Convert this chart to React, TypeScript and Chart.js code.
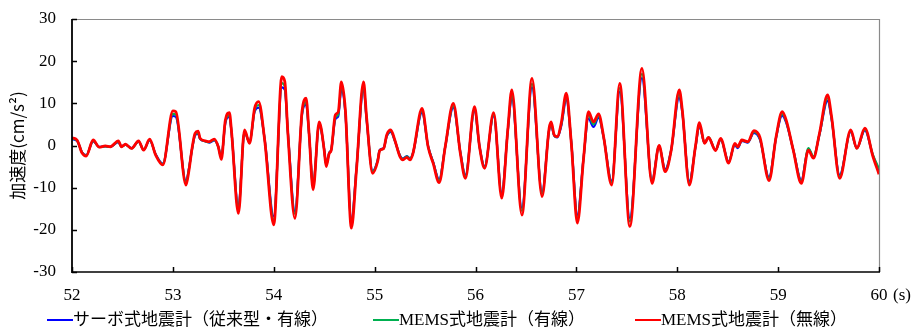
import React, { useEffect, useRef } from "react";
import { Chart, registerables } from "chart.js";
Chart.register(...registerables);

// ---- data ----
const times = [
  52.0, 52.05, 52.1, 52.14, 52.21, 52.27, 52.33, 52.38, 52.46, 52.49, 52.53, 52.59, 52.66, 52.71, 52.77, 52.83, 52.9,
  53.0, 53.03, 53.13, 53.16, 53.19, 53.22, 53.25, 53.27, 53.32, 53.36, 53.41, 53.45, 53.48, 53.52, 53.56, 53.58, 53.65,
  53.71, 53.76, 53.81, 53.85, 53.91, 54.0, 54.08, 54.11, 54.14, 54.21, 54.28, 54.32, 54.35, 54.39, 54.45, 54.47, 54.5,
  54.52, 54.55, 54.57, 54.61, 54.64, 54.67, 54.71, 54.77, 54.82, 54.89, 54.92, 54.98, 55.03, 55.05, 55.09, 55.12, 55.16,
  55.2, 55.25, 55.28, 55.32, 55.35, 55.38, 55.47, 55.53, 55.58, 55.64, 55.7, 55.78, 55.85, 55.9, 55.99, 56.04, 56.09,
  56.18, 56.26, 56.32, 56.36, 56.46, 56.56, 56.66, 56.73, 56.75, 56.78, 56.81, 56.85, 56.9, 56.95, 57.01, 57.07, 57.12,
  57.17, 57.22, 57.27, 57.35, 57.43, 57.53, 57.65, 57.75, 57.82, 57.88, 57.94, 58.02, 58.05, 58.12, 58.18, 58.22, 58.27,
  58.31, 58.38, 58.43, 58.51, 58.57, 58.6, 58.64, 58.7, 58.76, 58.82, 58.91, 58.98, 59.04, 59.08, 59.15, 59.23, 59.3,
  59.35, 59.41, 59.49, 59.53, 59.61, 59.72, 59.78, 59.86, 59.94, 60.0,
];

// MEMS (wireless) - red
const memsWireless = [
  1.8, 1.3, -1.8, -2.5, 1.3, -0.4, -0.1, -0.3, 1.1, -0.3, 0.3, -0.7, 1.1, -1.1, 1.5, -2.3, -4.6,
  8.2, 8.0, -9.4, -5.8, -0.7, 2.9, 3.4, 1.7, 1.1, 0.9, 1.5, -0.3, -3.3, 6.0, 7.8, 3.7, -16.1,
  3.7, 0.5, 8.8, 10.4, 1.3, -18.8, 16.3, 15.1, 2.9, -17.3, 8.0, 11.2, 2.9, -10.5, 5.6, 4.1, -1.1,
  -5.0, -1.9, -1.1, 7.2, 8.0, 15.1, 8.4, -19.6, -5.8, 15.1, 6.8, -6.6, -3.8, -1.2, -0.7, 2.5, 3.7,
  1.3, -2.6, -3.4, -2.8, -3.4, -1.9, 8.8, -0.3, -4.2, -8.8, -0.3, 10.0, -1.9, -7.8, 9.2, -0.3, -5.4,
  7.8, -12.5, 3.7, 13.2, -16.5, 15.9, -12.1, 4.1, 5.6, 2.5, 2.1, 5.3, 12.4, 0.5, -18.4, -3.4, 8.0,
  5.6, 7.5, 2.1, -9.4, 14.7, -19.2, 18.3, -9.0, 0.0, -6.2, -1.1, 13.2, 8.4, -9.4, -0.3, 5.4, 0.5,
  1.9, -1.2, 1.7, -4.2, 0.5, -0.3, 1.3, 0.9, 3.5, 1.9, -8.3, 2.1, 8.0, 6.0, -1.1, -9.0, -1.1,
  -3.0, 2.9, 12.0, 6.8, -7.8, 3.7, -0.7, 4.1, -2.6, -6.8,
];

// MEMS (wired) - green
const memsWired = [
  1.6, 1.2, -1.7, -2.4, 1.1, -0.4, -0.2, -0.3, 0.9, -0.3, 0.2, -0.7, 1.0, -1.0, 1.3, -2.2, -4.4,
  7.5, 7.3, -8.8, -5.5, -0.8, 2.6, 3.0, 1.6, 1.0, 0.8, 1.3, -0.3, -3.0, 5.6, 7.2, 3.5, -15.2,
  3.4, 0.6, 8.3, 9.6, 1.4, -17.6, 14.8, 14.0, 3.1, -16.2, 7.5, 10.3, 2.8, -9.8, 5.2, 3.9, -1.0,
  -4.6, -1.8, -1.0, 6.6, 7.4, 14.0, 8.0, -18.4, -5.6, 14.2, 6.5, -6.2, -3.6, -1.2, -0.7, 2.3, 3.4,
  1.2, -2.4, -3.2, -2.6, -3.2, -1.8, 8.2, -0.2, -4.0, -8.3, -0.3, 9.4, -1.7, -7.3, 8.6, -0.3, -5.1,
  7.3, -11.7, 3.5, 12.0, -15.5, 14.6, -11.4, 3.8, 5.1, 2.4, 2.0, 4.9, 11.5, 0.6, -17.2, -3.3, 7.2,
  5.0, 7.0, 2.0, -8.8, 13.6, -18.0, 17.0, -8.6, -0.1, -5.9, -1.1, 12.3, 8.2, -8.9, -0.4, 5.0, 0.6,
  2.0, -1.1, 1.5, -4.0, 0.3, -0.4, 1.2, 0.8, 3.2, 1.6, -7.8, 2.0, 7.5, 5.7, -1.0, -8.5, -0.6,
  -2.6, 2.7, 11.2, 6.5, -7.3, 3.4, -0.7, 3.8, -2.2, -5.5,
];

// Servo (conventional, wired) - blue
const servoWired = [
  1.5, 1.1, -1.6, -2.3, 1.0, -0.3, -0.2, -0.3, 0.8, -0.2, 0.2, -0.6, 0.9, -1.0, 1.2, -2.1, -4.3,
  7.0, 6.8, -8.5, -5.3, -0.9, 2.4, 2.8, 1.5, 1.0, 0.7, 1.2, -0.2, -2.8, 5.3, 6.8, 3.4, -14.6,
  3.2, 0.7, 8.0, 9.0, 1.5, -16.8, 13.8, 13.2, 3.2, -15.6, 7.2, 9.8, 2.7, -9.4, 4.9, 3.7, -0.9,
  -4.4, -1.7, -1.0, 6.2, 7.0, 13.2, 7.6, -17.6, -5.4, 13.5, 6.2, -6.0, -3.5, -1.1, -0.6, 2.2, 3.2,
  1.1, -2.3, -3.1, -2.5, -3.1, -1.8, 7.8, -0.1, -3.9, -8.0, -0.3, 9.0, -1.6, -7.0, 8.2, -0.2, -4.9,
  7.0, -11.2, 3.4, 11.3, -14.8, 13.8, -11.0, 3.6, 4.7, 2.3, 1.9, 4.6, 10.8, 0.7, -16.5, -3.2, 6.4,
  4.4, 6.6, 1.9, -8.4, 12.8, -17.2, 16.0, -8.3, -0.2, -5.6, -1.0, 11.5, 7.8, -8.5, -0.5, 4.7, 0.6,
  1.8, -1.1, 1.4, -3.8, 0.1, -0.6, 1.1, 0.7, 3.0, 1.4, -7.5, 1.9, 7.1, 5.4, -1.0, -8.2, -0.8,
  -2.8, 2.6, 10.6, 6.2, -7.0, 3.2, -0.6, 3.6, -2.4, -6.0,
];

const seriesLabels = ["サーボ式地震計（従来型・有線）", "MEMS式地震計（有線）", "MEMS式地震計（無線）"];
const seriesColors = ["#0000ff", "#00b050", "#ff0000"];
const xMin = 52;
const xMax = 60;
const yMin = -30;
const yMax = 30;
const yTitle = "加速度(cm/s²)";
const xUnit = "(s)";

// ---- layout ----
const W = 915;
const H = 329;
const PLOT_LEFT = 72;
const PLOT_RIGHT = 879;
const PLOT_TOP = 19;
const PLOT_BOTTOM = 272;
const FONT_LATIN = "'Liberation Serif', 'Times New Roman', serif";
const FONT_MIX = "'Liberation Serif', 'Noto Sans CJK JP', sans-serif";
const legendLefts = [47, 373, 635];

const framePlugin = {
  id: "frame",
  afterDraw(chart: any) {
    const { ctx, chartArea: a, scales } = chart;
    ctx.save();
    ctx.strokeStyle = "#8a8a8a";
    ctx.lineWidth = 1.2;
    ctx.beginPath();
    ctx.moveTo(a.left, a.top + 0.5);
    ctx.lineTo(a.right + 0.5, a.top + 0.5);
    ctx.lineTo(a.right + 0.5, a.bottom);
    ctx.stroke();

    ctx.strokeStyle = "#000";
    ctx.lineWidth = 1.8;
    ctx.beginPath();
    ctx.moveTo(a.left, a.top);
    ctx.lineTo(a.left, a.bottom + 1);
    ctx.stroke();
    ctx.lineWidth = 1.6;
    ctx.beginPath();
    ctx.moveTo(a.left, a.bottom);
    ctx.lineTo(a.right + 1, a.bottom);
    ctx.stroke();

    ctx.lineWidth = 1.5;
    ctx.beginPath();
    scales.y.ticks.forEach((t: any) => {
      const py = Math.round(scales.y.getPixelForValue(t.value)) + 0.5;
      ctx.moveTo(a.left, py);
      ctx.lineTo(a.left + 5, py);
    });
    scales.x.ticks.forEach((t: any) => {
      const px = Math.round(scales.x.getPixelForValue(t.value)) + 0.5;
      ctx.moveTo(px, a.bottom);
      ctx.lineTo(px, a.bottom - 5);
    });
    ctx.stroke();

    // unit after the last x tick label
    const pxEnd = scales.x.getPixelForValue(xMax);
    ctx.fillStyle = "#000";
    ctx.font = `17px ${FONT_LATIN}`;
    ctx.textAlign = "left";
    ctx.textBaseline = "middle";
    ctx.fillText(xUnit, pxEnd + 14, 296);
    ctx.restore();
  },
};

export default function App() {
  const ref = useRef<HTMLCanvasElement | null>(null);

  useEffect(() => {
    document.body.style.margin = "0";
    document.body.style.overflow = "hidden";
    const canvas = ref.current;
    if (!canvas) return;
    const arrays = [servoWired, memsWired, memsWireless];
    const widths = [2.2, 2.2, 2.8];
    const orders = [3, 2, 1];
    const chart = new Chart(canvas, {
      type: "line",
      data: {
        datasets: arrays.map((arr, i) => ({
          label: seriesLabels[i],
          data: times.map((t, j) => ({ x: t, y: arr[j] })),
          borderColor: seriesColors[i],
          backgroundColor: seriesColors[i],
          borderWidth: widths[i],
          pointRadius: 0,
          cubicInterpolationMode: "monotone" as const,
          order: orders[i],
          fill: false,
        })),
      },
      options: {
        animation: false,
        responsive: false,
        devicePixelRatio: 1,
        layout: { padding: { left: 0, right: W - PLOT_RIGHT, top: PLOT_TOP, bottom: 0 } },
        plugins: { legend: { display: false }, tooltip: { enabled: false } },
        scales: {
          x: {
            type: "linear",
            min: xMin,
            max: xMax,
            grid: { display: false, drawTicks: false },
            border: { display: false },
            ticks: {
              stepSize: 1,
              padding: 13,
              color: "#000",
              font: { family: FONT_LATIN, size: 17 },
              maxRotation: 0,
              autoSkip: false,
            },
            afterFit: (s: any) => {
              s.height = H - PLOT_BOTTOM;
              s.paddingLeft = 0;
              s.paddingRight = 0;
            },
          },
          y: {
            min: yMin,
            max: yMax,
            grid: { display: false, drawTicks: false },
            border: { display: false },
            ticks: {
              stepSize: 10,
              padding: 16,
              color: "#000",
              font: { family: FONT_LATIN, size: 17 },
            },
            title: {
              display: true,
              text: yTitle,
              color: "#000",
              font: { family: "'Noto Sans CJK JP', sans-serif", size: 17 },
              padding: { top: 7, bottom: 0 },
            },
            afterFit: (s: any) => {
              s.width = PLOT_LEFT;
              s.paddingTop = 0;
              s.paddingBottom = 0;
            },
          },
        },
      },
      plugins: [framePlugin],
    });
    return () => chart.destroy();
  }, []);

  return (
    <div style={{ width: W, height: H, overflow: "hidden", position: "relative", background: "#fff" }}>
      <canvas ref={ref} width={W} height={H} style={{ display: "block" }} />
      {seriesLabels.map((lab, i) => (
        <div
          key={lab}
          style={{
            position: "absolute",
            left: legendLefts[i],
            top: 310,
            height: 20,
            display: "flex",
            alignItems: "center",
            whiteSpace: "nowrap",
            font: `17px ${FONT_MIX}`,
            lineHeight: "20px",
            color: "#000",
          }}
        >
          <span style={{ display: "inline-block", width: 26, height: 2.5, background: seriesColors[i] }} />
          <span>{lab}</span>
        </div>
      ))}
    </div>
  );
}
